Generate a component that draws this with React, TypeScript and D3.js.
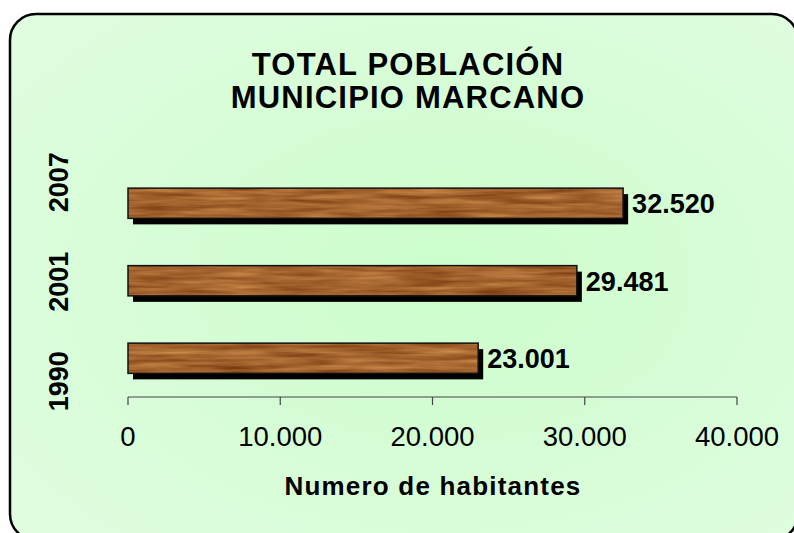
import React from "react";
import * as d3 from "d3";

const years = ["2007", "2001", "1990"];
const population = [32520, 29481, 23001];
const ticks = [0, 10000, 20000, 30000, 40000];
const titleLines = ["TOTAL POBLACIÓN", "MUNICIPIO MARCANO"];
const axisTitle = "Numero de habitantes";

const fmt = (v: number) => d3.format(",")(v).replace(/,/g, ".");

export default function App() {
  const W = 794;
  const H = 533;
  const x = d3.scaleLinear().domain([0, 40000]).range([128, 737]);
  const y = d3.scaleBand().domain(years).range([164.5, 397]).paddingInner(0.61).paddingOuter(0.305);
  // excel spreads the rotated category labels wider than the bars
  const yLabel = d3.scaleBand().domain(years).range([132.5, 431]);
  const axisY = 397;
  const font = "Arial, 'Liberation Sans', sans-serif";

  return (
    <svg width={W} height={H} style={{ position: "absolute", left: 0, top: 0 }}>
      <defs>
        <radialGradient id="bg" cx="0.55" cy="0.5" r="0.7">
          <stop offset="0" stopColor="#ccfdcc" />
          <stop offset="1" stopColor="#e0fde0" />
        </radialGradient>
        <filter id="wood" x="0" y="0" width="1" height="1" colorInterpolationFilters="sRGB">
          <feTurbulence type="fractalNoise" baseFrequency="0.015 0.2" numOctaves="3" seed="4" result="n" />
          <feColorMatrix
            in="n"
            type="matrix"
            values="0.4 0 0 0 0.44  0.38 0 0 0 0.2  0.28 0 0 0 0.04  0 0 0 0 1"
            result="c"
          />
          <feComposite in="c" in2="SourceGraphic" operator="in" />
        </filter>
      </defs>
      <rect x={10} y={14} width={788} height={526} rx={26} fill="url(#bg)" stroke="#000" strokeWidth={2.5} />

      {titleLines.map((t, i) => (
        <text key={t} x={408} y={75 + i * 33} textAnchor="middle" fontFamily={font} fontWeight="bold" fontSize={31} letterSpacing={1.2} fill="#000">
          {t}
        </text>
      ))}

      {/* bars */}
      {years.map((yr, i) => {
        const y0 = y(yr)!;
        const h = y.bandwidth();
        const w = x(population[i]) - x(0);
        return (
          <g key={yr}>
            <rect x={x(0) + 5} y={y0 + 6} width={w} height={h} fill="#000" />
            <rect x={x(0)} y={y0} width={w} height={h} fill="#a06a35" filter="url(#wood)" />
            <rect x={x(0)} y={y0} width={w} height={h} fill="none" stroke="#111" strokeWidth={1.5} />
            <text x={x(population[i]) + 9} y={y0 + h / 2 + 10} fontFamily={font} fontWeight="bold" fontSize={27} fill="#000">
              {fmt(population[i])}
            </text>
            <text
              transform={`translate(68,${yLabel(yr)! + yLabel.bandwidth() / 2}) rotate(-90)`}
              textAnchor="middle"
              fontFamily={font}
              fontWeight="bold"
              fontSize={27}
              fill="#000"
            >
              {yr}
            </text>
          </g>
        );
      })}

      {/* x axis */}
      <line x1={x(0)} x2={x(40000)} y1={axisY} y2={axisY} stroke="#444" strokeWidth={1.2} />
      {ticks.map((t) => (
        <g key={t}>
          <line x1={x(t)} x2={x(t)} y1={axisY} y2={axisY + 8} stroke="#444" strokeWidth={1.2} />
          <text x={x(t)} y={446} textAnchor="middle" fontFamily={font} fontSize={27.5} fill="#000">
            {fmt(t)}
          </text>
        </g>
      ))}
      <text x={433} y={495} textAnchor="middle" fontFamily={font} fontWeight="bold" fontSize={26} letterSpacing={1.2} fill="#000">
        {axisTitle}
      </text>
    </svg>
  );
}
